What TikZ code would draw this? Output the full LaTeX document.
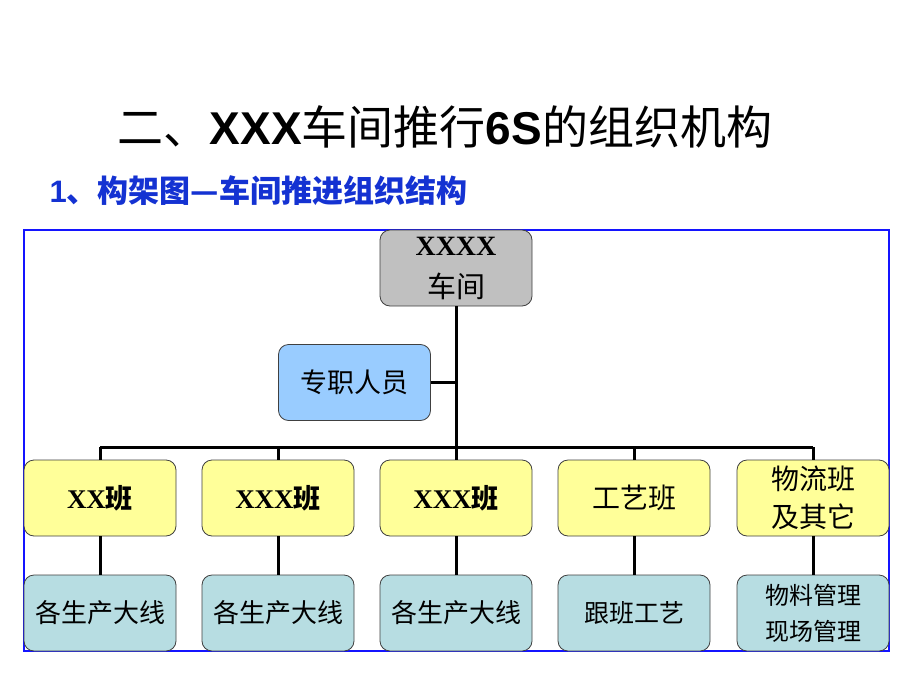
\documentclass[tikz,border=0pt]{standalone}
\usepackage{fontspec}
\setmainfont{Liberation Serif}
\newfontfamily\cjk{Noto Sans CJK SC}
\newfontfamily\arialb{Liberation Sans}
\definecolor{boxgray}{RGB}{192,192,192}
\definecolor{boxblue}{RGB}{153,204,255}
\definecolor{boxyellow}{RGB}{255,255,153}
\definecolor{boxteal}{RGB}{183,221,226}
\definecolor{subblue}{RGB}{20,50,210}
\definecolor{frameblue}{RGB}{20,20,255}
\begin{document}
\begin{tikzpicture}[x=1pt,y=-1pt,
  box/.style={draw=black!75, line width=0.8pt, rounded corners=10pt, minimum width=152pt, minimum height=76pt, inner sep=0pt, align=center, text=black},
  conn/.style={line width=3pt, black}]
\useasboundingbox (0,0) rectangle (920,690);
\fill[white] (0,0) rectangle (920,690);
\node (title) at (445,127) {\fontsize{46}{52}\selectfont\cjk 二、\textbf{\arialb XXX}车间推行\textbf{\arialb 6S}的组织机构};
\node[anchor=west, text=subblue] (sub) at (46,191) {\fontsize{31}{34}\selectfont\bfseries\arialb 1\cjk\bfseries 、构架图—车间推进组织结构};
\draw[frameblue, line width=1.5pt] (24,230) rectangle (889,651);
\node[box, fill=boxgray, font=\fontsize{28}{42}\selectfont] (top) at (456,268) {\textbf{XXXX}\\{\fontsize{29}{42}\selectfont\cjk 车间}};
\node[box, fill=boxblue, font=\fontsize{27}{30}\selectfont\cjk] (zz) at (354.5,382.5) {专职人员};
\coordinate (bus) at (456,447);
\coordinate (jn) at (456,382.5);
\foreach \n/\x in {a/100,b/278,c/456,d/634,e/813} {
  \coordinate (b\n) at (\x,447);
}
\node[box, fill=boxyellow, font=\fontsize{27}{30}\selectfont] (ya) at (100,498) {\textbf{XX}{\cjk\bfseries 班}};
\node[box, fill=boxyellow, font=\fontsize{27}{30}\selectfont] (yb) at (278,498) {\textbf{XXX}{\cjk\bfseries 班}};
\node[box, fill=boxyellow, font=\fontsize{27}{30}\selectfont] (yc) at (456,498) {\textbf{XXX}{\cjk\bfseries 班}};
\node[box, fill=boxyellow, font=\fontsize{28}{30}\selectfont\cjk] (yd) at (634,498) {工艺班};
\node[box, fill=boxyellow, font=\fontsize{28}{38}\selectfont\cjk] (ye) at (813,498) {物流班\\及其它};
\node[box, fill=boxteal, font=\fontsize{26}{30}\selectfont\cjk] (ta) at (100,613) {各生产大线};
\node[box, fill=boxteal, font=\fontsize{26}{30}\selectfont\cjk] (tb) at (278,613) {各生产大线};
\node[box, fill=boxteal, font=\fontsize{26}{30}\selectfont\cjk] (tc) at (456,613) {各生产大线};
\node[box, fill=boxteal, font=\fontsize{25}{30}\selectfont\cjk] (td) at (634,613) {跟班工艺};
\node[box, fill=boxteal, font=\fontsize{24}{36}\selectfont\cjk] (te) at (813,613) {物料管理\\现场管理};
\draw[conn] (top.south) -- (bus);
\draw[conn] (zz.east) -- (jn);
\draw[conn] (ba) -- (be);
\foreach \n in {a,b,c,d,e} {
  \draw[conn] (b\n) -- (y\n.north);
  \draw[conn] (y\n.south) -- (t\n.north);
}
\end{tikzpicture}
\end{document}
